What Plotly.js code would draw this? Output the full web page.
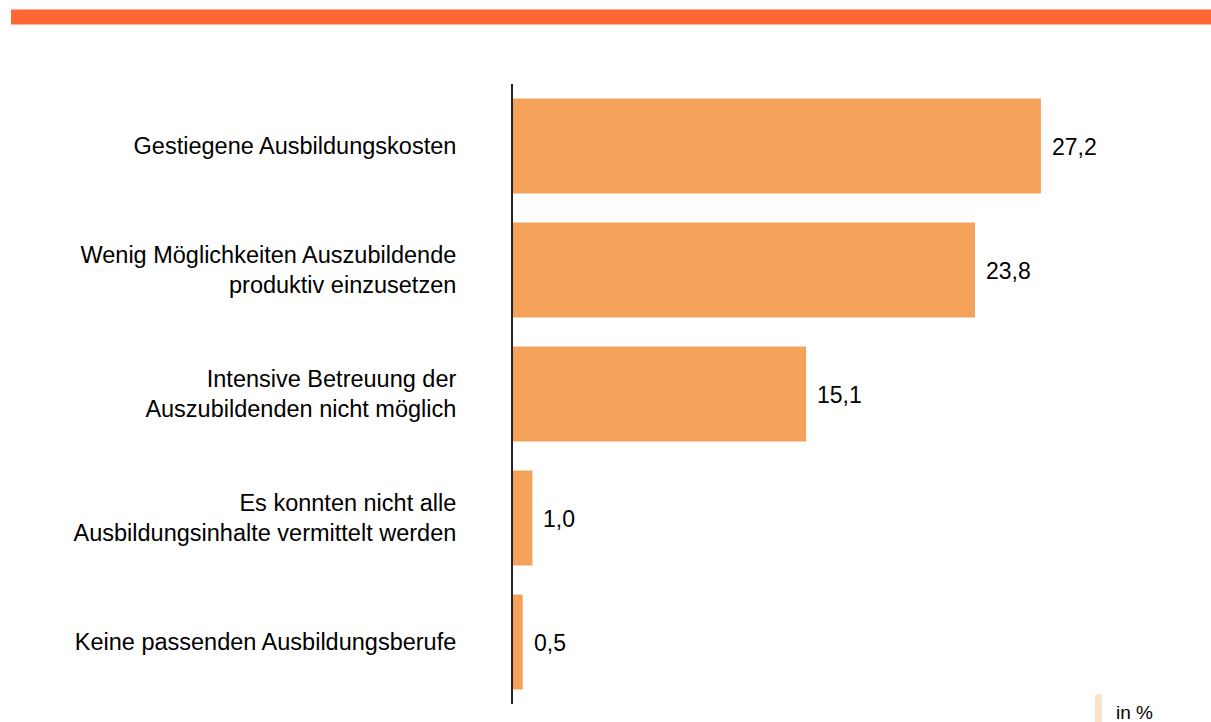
<!DOCTYPE html>
<html>
<head>
<meta charset="utf-8">
<script src="https://cdn.plot.ly/plotly-3.0.1.min.js"></script>
<style>html,body{margin:0;padding:0;background:#fff;}#chart{width:1211px;height:722px;}</style>
</head>
<body>
<div id="chart"></div>
<script>
const categories = [
  "Gestiegene Ausbildungskosten",
  "Wenig Möglichkeiten Auszubildende<br>produktiv einzusetzen",
  "Intensive Betreuung der<br>Auszubildenden nicht möglich",
  "Es konnten nicht alle<br>Ausbildungsinhalte vermittelt werden",
  "Keine passenden Ausbildungsberufe"
];
const values = [27.2, 23.8, 15.1, 1.0, 0.5];
const legendLabel = "in %";

const fmt = v => v.toFixed(1).replace('.', ',');

const trace = {
  type: 'bar',
  orientation: 'h',
  x: values,
  y: categories,
  marker: {color: '#F4A259'},
  hoverinfo: 'none'
};

const valueAnnotations = values.map((v, i) => ({
  x: v, y: categories[i], xref: 'x', yref: 'y',
  text: fmt(v), showarrow: false, xanchor: 'left', yanchor: 'middle',
  xshift: 9, yshift: -1,
  font: {family: 'Liberation Sans, Arial, sans-serif', size: 23, color: '#000'}
}));

const layout = {
  width: 1211, height: 722,
  margin: {l: 513, r: 61, t: 84, b: 18, pad: 0},
  paper_bgcolor: '#fff', plot_bgcolor: '#fff',
  showlegend: false,
  bargap: 0.234,
  separators: ',.',
  font: {family: 'Liberation Sans, Arial, sans-serif', size: 22, color: '#000'},
  xaxis: {range: [0, 32.82], showgrid: false, zeroline: false, showticklabels: false, showline: false, ticks: '', fixedrange: true},
  yaxis: {autorange: 'reversed', showgrid: false, zeroline: false, showline: true, linecolor: '#222', linewidth: 2,
          ticks: '', ticklabelstandoff: 50, tickfont: {size: 23.5, color: '#000'}, fixedrange: true},
  shapes: [
    {type: 'rect', xref: 'paper', yref: 'paper', x0: -0.788, x1: 1.0958, y0: 1.0960, y1: 1.1202,
     fillcolor: '#FF6633', line: {width: 0}, layer: 'above'},
    {type: 'rect', xref: 'paper', yref: 'paper', x0: 0.9137, x1: 0.9247, y0: -0.0298, y1: 0.0153,
     fillcolor: '#FDE3CA', line: {width: 0}}
  ],
  annotations: valueAnnotations.concat([
    {x: 0.9435, y: -0.0137, xref: 'paper', yref: 'paper', text: legendLabel, showarrow: false,
     xanchor: 'left', yanchor: 'middle', font: {size: 19, color: '#000'}}
  ])
};

Plotly.newPlot('chart', [trace], layout, {displayModeBar: false, staticPlot: true});
</script>
</body>
</html>
